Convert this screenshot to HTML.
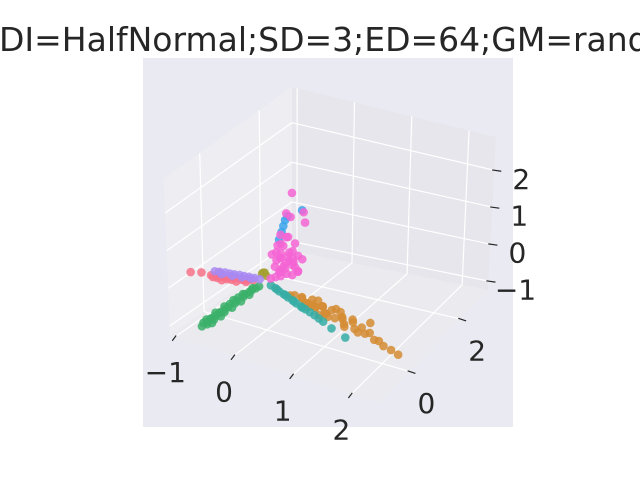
<!DOCTYPE html>
<html><head><meta charset="utf-8"><style>
html,body{margin:0;padding:0;background:#fff;}
svg{display:block;font-family:"DejaVu Sans","Liberation Sans",sans-serif;}
</style></head><body>
<svg id="chart" width="640" height="480" viewBox="0 0 640 480">
<rect x="0" y="0" width="640" height="480" fill="#ffffff"/>
<text x="-1" y="51" font-size="33" fill="#262626">DI=HalfNormal;SD=3;ED=64;GM=random</text>
<rect x="143" y="58" width="370" height="369" fill="#eaeaf2"/>
<g id="panes"></g><g id="grid"></g><g id="ticks"></g><g id="points"></g>
</svg>
<script>
const xTicks=[-1,0,1,2];
const yTicks=[0,2];
const zTicks=[-1,0,1,2];
const xLabels=["\u22121","0","1","2"];
const yLabels=["0","2"];
const zLabels=["\u22121","0","1","2"];
const seriesNames=["salmon","orange","olive","green","teal","blue","purple","magenta"];
const seriesColors=["#f77189","#d58c32","#a4a031","#3bb06a","#36ada4","#3ba3ec","#a88af2","#f564d4"];
const salmonPts=[[-1.1,-0.4,0],[-0.95,-0.33,0.02],[-0.8,-0.3,0],[-0.75,-0.25,-0.03],[-0.7,-0.27,0.03],[-0.65,-0.22,-0.02],[-0.6,-0.24,0],[-0.55,-0.18,0.02],[-0.5,-0.2,-0.04],[-0.45,-0.15,0],[-0.4,-0.17,0.03],[-0.35,-0.12,-0.02],[-0.3,-0.1,0],[-0.25,-0.1,0.02],[-0.2,-0.06,0],[-0.72,-0.2,0.06],[-0.62,-0.3,-0.05],[-0.52,-0.26,0.05],[-0.78,-0.28,-0.05],[-0.68,-0.33,0.0],[-0.58,-0.2,-0.06],[-0.48,-0.22,0.04],[-0.42,-0.2,-0.05],[-0.36,-0.16,0.02],[-0.28,-0.14,-0.03]];
const orangePts=[[0.5,-0.2,0],[0.7,-0.2,0.05],[0.8,-0.3,0],[0.9,-0.25,0.1],[1.0,-0.35,0],[1.1,-0.3,0.05],[1.2,-0.45,0],[1.3,-0.4,0.1],[1.4,-0.5,0],[1.5,-0.45,0.05],[1.6,-0.6,0],[1.7,-0.5,0.1],[1.8,-0.65,0],[1.9,-0.6,0.05],[2.0,-0.7,0],[2.1,-0.75,0.1],[2.2,-0.8,0],[2.3,-0.85,0.05],[2.4,-0.9,0],[2.55,-0.95,0],[2.7,-1.02,0],[1.15,-0.55,0],[0.95,-0.4,0.08],[1.35,-0.35,0.12],[2.0,-0.5,0.15],[0.85,-0.35,0.05],[1.05,-0.45,0.1],[1.25,-0.5,0.05],[0.75,-0.3,0.1],[0.9,-0.35,-0.02],[1.0,-0.25,0.12],[1.15,-0.4,0.12],[1.3,-0.55,0.02],[1.45,-0.4,0.12],[1.55,-0.55,0.08],[1.65,-0.7,0.02],[1.75,-0.6,0.12],[0.6,-0.25,0.08],[1.9,-0.75,0.02]];
const olivePts=[[-0.2,0.3,0],[-0.15,0.25,0.05],[-0.1,0.2,0.02],[-0.18,0.22,0.03]];
const greenPts=[[-0.1,-2.1,0],[-0.12,-2.0,0.03],[-0.08,-1.95,-0.02],[-0.1,-1.9,0],[-0.1,-1.8,0.02],[-0.06,-1.75,0],[-0.12,-1.7,-0.02],[-0.1,-1.6,0],[-0.08,-1.5,0.02],[-0.1,-1.45,0],[-0.05,-1.4,0],[-0.1,-1.3,-0.02],[-0.08,-1.2,0],[-0.1,-1.1,0.02],[-0.06,-1.0,0],[-0.08,-0.9,0],[-0.1,-0.8,0.02],[-0.06,-0.7,0],[-0.08,-0.6,0],[-0.05,-0.5,0.02],[-0.06,-0.4,0],[-0.04,-0.3,0],[-0.03,-0.2,0],[-0.14,-1.85,0.02],[-0.05,-1.85,-0.03],[-0.13,-1.55,0.03],[-0.04,-1.55,-0.02],[-0.12,-1.25,0.03],[-0.04,-1.15,-0.02],[-0.11,-0.95,0.03],[-0.03,-0.85,-0.02],[-0.09,-0.65,0.03],[-0.03,-0.55,-0.02],[-0.07,-0.35,0.02]];
const tealPts=[[0.1,-0.05,0],[0.2,-0.1,0],[0.3,-0.17,0],[0.4,-0.22,0],[0.5,-0.28,0],[0.6,-0.33,0],[0.7,-0.4,0],[0.8,-0.45,0],[0.9,-0.5,0],[1.0,-0.55,0],[1.1,-0.6,0],[1.2,-0.66,0],[1.3,-0.72,0],[1.5,-0.85,0],[1.8,-1.0,0],[0.25,-0.15,0.02],[0.45,-0.26,0.02],[0.65,-0.38,0.02],[0.85,-0.5,0.02]];
const bluePts=[[0.15,0.15,1.1],[0.18,0.18,1.3],[0.2,0.2,1.45],[0.22,0.22,1.6],[0.25,0.25,1.7],[0.4,0.45,1.8]];
const purplePts=[[-0.77,-0.23,0.08],[-0.7,-0.2,0.08],[-0.62,-0.18,0.09],[-0.55,-0.16,0.08],[-0.48,-0.14,0.08],[-0.4,-0.12,0.09],[-0.33,-0.1,0.08],[-0.26,-0.08,0.08],[-0.18,-0.05,0.07],[-0.1,-0.03,0.06],[-0.66,-0.22,0.05],[-0.5,-0.17,0.05],[-0.36,-0.13,0.05],[-0.22,-0.08,0.05]];
const magentaPts=[[0.3,0.3,2.3],[0.45,0.45,1.5],[0.45,0.4,1.8],[0.25,0.2,1.8],[0.3,0.25,1.7],[0.15,0.2,1.2],[0.2,0.3,1.1],[0.35,0.3,1.0],[0.1,0.2,0.9],[0.2,0.1,0.8],[0.3,0.2,0.8],[0.4,0.3,0.7],[0.05,0.1,0.7],[0.15,0.2,0.6],[0.25,0.3,0.5],[0.35,0.2,0.5],[0.1,0.1,0.4],[0.2,0.2,0.4],[0.3,0.1,0.3],[0.4,0.3,0.3],[0.1,0.3,0.2],[0.2,0.1,0.2],[0.3,0.3,0.15],[0.05,0.05,0.1],[0.15,0.15,0.25],[0.25,0.25,0.65],[0.12,0.25,0.55],[0.3,0.35,0.45],[0.22,0.05,0.35],[0.38,0.15,0.9],[0.45,0.35,0.6],[0.18,0.15,1.0],[0.28,0.2,1.2],[0.1,0.15,0.75],[0.32,0.28,0.6],[0.2,0.25,0.3],[0.08,0.2,0.5],[0.4,0.2,0.45],[0.27,0.12,0.55],[0.15,0.3,0.85],[0.35,0.4,0.2],[0.12,0.08,0.15]];
const seriesData=[salmonPts,orangePts,olivePts,greenPts,tealPts,bluePts,purplePts,magentaPts];

const XR=[-1.09,2.47],YR=[-1.2,3.1],ZR=[-1.24,2.9];
const FL={L:[170,335],F:[379,403],R:[488,290],B:[292,251]};
const TP={L:[164,179],F:[382,243],R:[496,137],B:[292,87]};
function bil(c,u,v,i){return (1-u)*(1-v)*c.L[i]+u*(1-v)*c.F[i]+u*v*c.R[i]+(1-u)*v*c.B[i];}
function P(x,y,z){
  const u=(x-XR[0])/(XR[1]-XR[0]),v=(y-YR[0])/(YR[1]-YR[0]),w=(z-ZR[0])/(ZR[1]-ZR[0]);
  const fx=bil(FL,u,v,0),fy=bil(FL,u,v,1),tx=bil(TP,u,v,0),ty=bil(TP,u,v,1);
  return [fx+(tx-fx)*w,fy+(ty-fy)*w];
}
const NS="http://www.w3.org/2000/svg";
function mk(tag,attrs,parent){const e=document.createElementNS(NS,tag);for(const k in attrs)e.setAttribute(k,attrs[k]);parent.appendChild(e);return e;}
function poly(pts,fill,parent){return mk('polygon',{points:pts.map(p=>p.join(',')).join(' '),fill:fill},parent);}
const panes=document.getElementById('panes');
let e;
e=poly([P(XR[0],YR[0],ZR[0]),P(XR[0],YR[1],ZR[0]),P(XR[0],YR[1],ZR[1]),P(XR[0],YR[0],ZR[1])],'#eeeef2',panes);


e=poly([P(XR[0],YR[1],ZR[0]),P(XR[1],YR[1],ZR[0]),P(XR[1],YR[1],ZR[1]),P(XR[0],YR[1],ZR[1])],'#e6e6ec',panes);


e=poly([P(XR[0],YR[0],ZR[0]),P(XR[1],YR[0],ZR[0]),P(XR[1],YR[1],ZR[0]),P(XR[0],YR[1],ZR[0])],'#ebebef',panes);



const grid=document.getElementById('grid');
function gl(a,b,name){const l=mk('line',{x1:a[0],y1:a[1],x2:b[0],y2:b[1],stroke:'#ffffff','stroke-width':1.2},grid);

}
yTicks.forEach(t=>{gl(P(XR[0],t,ZR[0]),P(XR[0],t,ZR[1]),'y-gridline');gl(P(XR[0],t,ZR[0]),P(XR[1],t,ZR[0]),'y-gridline');});
zTicks.forEach(t=>{gl(P(XR[0],YR[0],t),P(XR[0],YR[1],t),'z-gridline');gl(P(XR[0],YR[1],t),P(XR[1],YR[1],t),'z-gridline');});
xTicks.forEach(t=>{gl(P(t,YR[1],ZR[0]),P(t,YR[1],ZR[1]),'x-gridline');gl(P(t,YR[0],ZR[0]),P(t,YR[1],ZR[0]),'x-gridline');});

const tk=document.getElementById('ticks');
function tick(p,d,lbl,off,name){
  const l=mk('line',{x1:p[0]-d[0]*0.3,y1:p[1]-d[1]*0.3,x2:p[0]+d[0],y2:p[1]+d[1],stroke:'#262626','stroke-width':1.2},tk);
  
  
  const t=mk('text',{x:p[0]+off[0],y:p[1]+off[1],'font-size':28,fill:'#262626','text-anchor':'middle','dominant-baseline':'central'},tk);
  t.textContent=lbl;
  
  
}
xTicks.forEach((t,i)=>tick(P(t,YR[0],ZR[0]),[-3,4],xLabels[i],[-10,36],'x-axis'));
yTicks.forEach((t,i)=>tick(P(XR[1],t,ZR[0]),[6,2],yLabels[i],[17,32],'y-axis'));
zTicks.forEach((t,i)=>tick(P(XR[1],YR[1],t),[7,1],zLabels[i],[27,9],'z-axis'));

const pg=document.getElementById('points');
seriesData.forEach((pts,s)=>{
  const g=mk('g',{},pg);
  
  
  pts.forEach(d=>{
    const p=P(d[0],d[1],d[2]);
    const c=mk('circle',{cx:p[0],cy:p[1],r:4.3,fill:seriesColors[s],'fill-opacity':0.85},g);
    
    
  });
});
</script>
</body></html>
